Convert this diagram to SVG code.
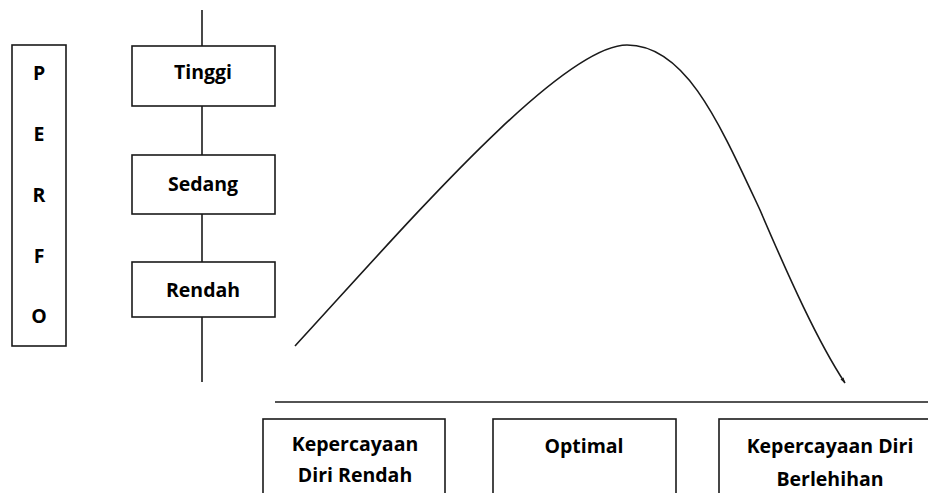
<svg xmlns="http://www.w3.org/2000/svg" width="928" height="493" viewBox="0 0 928 493">
<defs>
<style>
.box{fill:#fff;stroke:#1a1a1a;stroke-width:1.6}
.ln{fill:none;stroke:#1a1a1a;stroke-width:1.6}
.t{font-family:"Open Sans","Liberation Sans",sans-serif;font-weight:bold;font-size:19.5px;fill:#000;text-anchor:middle}
</style>
<marker id="ah" viewBox="0 0 10 6" refX="9" refY="3" markerWidth="6" markerHeight="4" orient="auto" markerUnits="userSpaceOnUse">
<path d="M0,0 L10,3 L0,6 z" fill="#1a1a1a"/>
</marker>
</defs>
<rect width="928" height="493" fill="#fff"/>
<g id="connectors">
<line class="ln" x1="202" y1="10" x2="202" y2="382"/>
<line class="ln" x1="275" y1="402" x2="928" y2="402"/>
<path class="ln" d="M295,346 C400,232 560,45 627,45 C685,45 718,120 760,210 C790,280 818,342 845,383" marker-end="url(#ah)"/>
</g>
<g id="perfo">
<rect class="box" x="12" y="45" width="54" height="301"/>
<text class="t" x="39" y="80">P</text>
<text class="t" x="39" y="141">E</text>
<text class="t" x="39" y="202">R</text>
<text class="t" x="39" y="263">F</text>
<text class="t" x="39" y="323">O</text>
</g>
<g id="tinggi">
<rect class="box" x="132" y="46" width="143" height="60"/>
<text class="t" x="203" y="79">Tinggi</text>
</g>
<g id="sedang">
<rect class="box" x="132" y="155" width="143" height="59"/>
<text class="t" x="203" y="191">Sedang</text>
</g>
<g id="rendah">
<rect class="box" x="132" y="262" width="143" height="55"/>
<text class="t" x="203" y="297">Rendah</text>
</g>
<g id="rendah-diri">
<rect class="box" x="263" y="419" width="182" height="90"/>
<text class="t" x="355" y="451">Kepercayaan</text>
<text class="t" x="355" y="482">Diri Rendah</text>
</g>
<g id="optimal">
<rect class="box" x="493" y="419" width="183" height="90"/>
<text class="t" x="584" y="453">Optimal</text>
</g>
<g id="berlebihan">
<rect class="box" x="719" y="419" width="230" height="90"/>
<text class="t" x="830" y="453">Kepercayaan Diri</text>
<text class="t" x="830" y="486">Berlehihan</text>
</g>
</svg>
